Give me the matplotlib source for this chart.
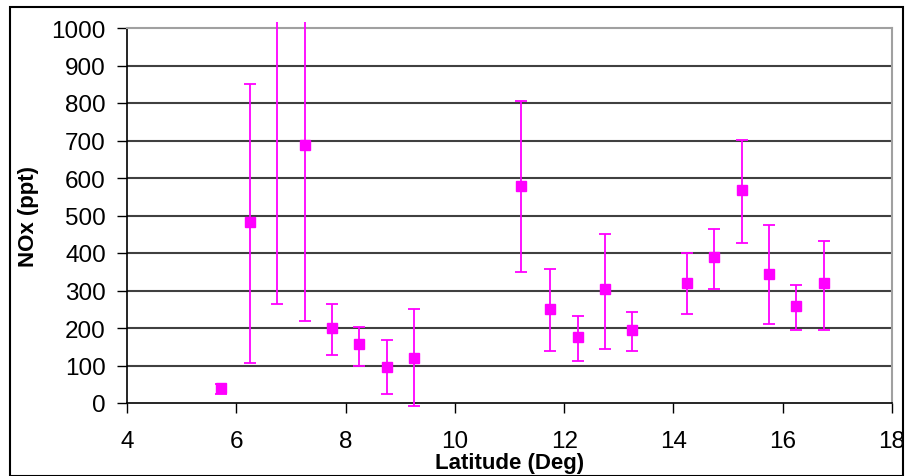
import matplotlib
matplotlib.use("Agg")
import matplotlib.pyplot as plt
from matplotlib.patches import Rectangle
from matplotlib.transforms import Bbox, TransformedBbox
import numpy as np

latitude = [5.72, 6.25, 6.75, 7.25, 7.75, 8.25, 8.75, 9.25, 11.21, 11.75,
            12.25, 12.75, 13.25, 14.25, 14.75, 15.25, 15.75, 16.25, 16.75]
nox = [40, 483, 1100, 688, 200, 157, 97, 120, 580, 250,
       177, 303, 194, 320, 390, 567, 345, 259, 320]
err_low = [25, 107, 265, 218, 127, 100, 25, -8, 350, 138,
           113, 143, 140, 238, 305, 428, 211, 196, 195]
err_high = [52, 850, 1400, 1400, 265, 203, 167, 252, 805, 357,
            232, 452, 242, 400, 465, 702, 475, 316, 432]

x_ticks = [4, 6, 8, 10, 12, 14, 16, 18]
y_ticks = [0, 100, 200, 300, 400, 500, 600, 700, 800, 900, 1000]

plt.rcParams['font.family'] = ['Liberation Sans', 'DejaVu Sans']

fig = plt.figure(figsize=(9.06, 4.77), dpi=100)
ax = fig.add_axes([127/906, 1 - 404/477, (892-127)/906, (404-29)/477])

nox_a = np.array(nox, dtype=float)
yerr = np.vstack([nox_a - np.array(err_low), np.array(err_high) - nox_a])
cont = ax.errorbar(latitude, nox, yerr=yerr, fmt='s', color='#ff00ff', ecolor='#ff00ff',
                   markersize=7, elinewidth=1.3, capsize=4.5, capthick=1.3, zorder=3)

ax.set_xlim(4, 18)
ax.set_ylim(0, 1000)

# let error bar lines extend slightly beyond the plot area, like the original
bb = TransformedBbox(Bbox([[0, -0.03], [1, 1.017]]), ax.transAxes)
for coll in cont.lines[2]:
    coll.set_clip_path(None)
    coll.set_clip_box(bb)
for cap in cont.lines[1]:
    cap.set_clip_path(None)
    cap.set_clip_box(TransformedBbox(Bbox([[0, -0.03], [1, 1.0]]), ax.transAxes))

ax.set_xticks(x_ticks)
ax.set_yticks(y_ticks)
ax.set_xticklabels([str(v) for v in x_ticks], fontsize=17.5)
ax.set_yticklabels([str(v) for v in y_ticks], fontsize=17.5)
ax.tick_params(axis='both', direction='out', length=7.2, width=1, color='black')
ax.tick_params(axis='x', pad=12.5)
ax.tick_params(axis='y', pad=8)

for v in y_ticks[1:-1]:
    ax.axhline(v, color='#404040', linewidth=1.5, zorder=1)

ax.spines['left'].set_color('black')
ax.spines['bottom'].set_color('black')
ax.spines['left'].set_linewidth(1.2)
ax.spines['bottom'].set_linewidth(1.2)
ax.spines['top'].set_color('#a0a0a0')
ax.spines['right'].set_color('#a0a0a0')
ax.spines['top'].set_linewidth(1.5)
ax.spines['right'].set_linewidth(1.5)

ax.set_xlabel('Latitude (Deg)', fontsize=16, fontweight='bold', labelpad=0)
ax.set_ylabel('NOx (ppt)', fontsize=16, fontweight='bold', labelpad=9)

fig.patches.append(Rectangle((10/906, 0), (903-10)/906, 1 - 8/477, transform=fig.transFigure,
                             fill=False, edgecolor='black', linewidth=1.5))

fig.savefig('out.png', dpi=100)
